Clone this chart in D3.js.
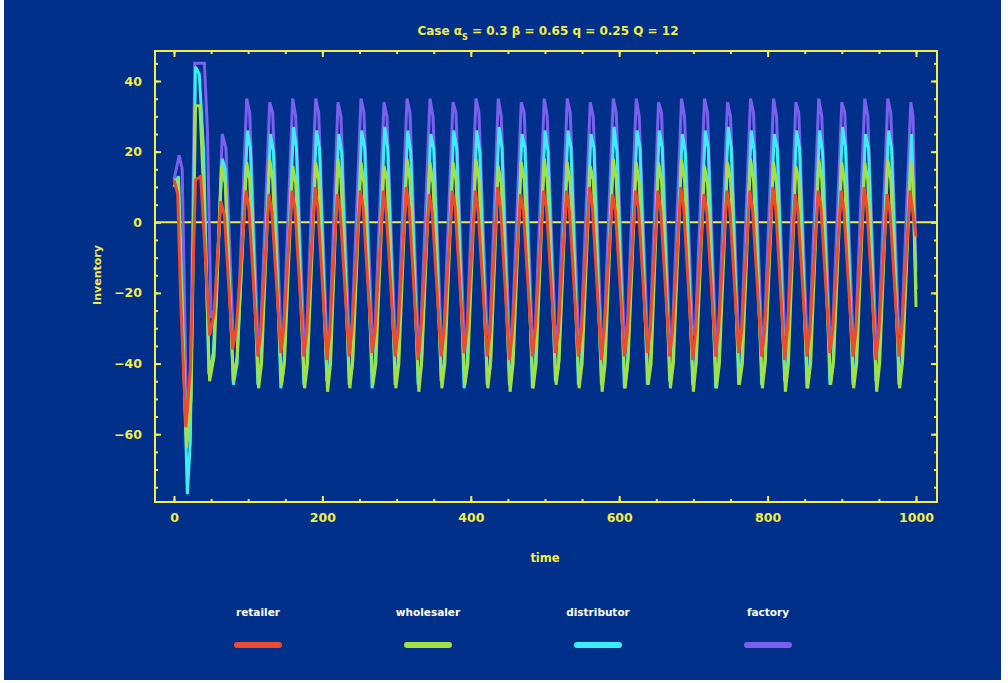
<!DOCTYPE html>
<html>
<head>
<meta charset="utf-8">
<script src="https://cdn.jsdelivr.net/npm/d3@7"></script>
<style>
  body { margin: 0; background: #ffffff; }
  text { font-family: "DejaVu Sans", sans-serif; font-weight: bold; }
</style>
</head>
<body>
<div id="chart"></div>
<script>

// inventory turning points [time, value]
const retailer = [
  [0,12],[5,8],[9,-22],[16,-58],[22,-42],[29,12],[36,13],[41,-5],[48,-32],[54,-26],[63,6],[68,2],[79,-36],[84,-30],
  [97,9],[101,4],[113,-38],[117,-31],[128,8],[132,3],[144,-37],[148,-30],[159,9],[163,4],[175,-38],[179,-31],
  [190,10],[194,4],[206,-39],[210,-31],[220,8],[224,3],[236,-38],[240,-30],[251,9],[255,4],[267,-37],[271,-31],
  [282,9],[286,3],[298,-38],[302,-31],[313,10],[317,4],[329,-39],[333,-30],[344,8],[348,3],[360,-38],[364,-31],
  [375,9],[379,4],[391,-37],[395,-30],[406,9],[410,3],[422,-38],[426,-31],[436,10],[440,4],[452,-39],[456,-31],
  [467,8],[471,3],[483,-38],[487,-30],[498,9],[502,4],[514,-37],[518,-31],[529,9],[533,3],[545,-38],[549,-31],
  [560,10],[564,4],[576,-39],[580,-30],[591,8],[595,3],[607,-38],[611,-31],[622,9],[626,4],[638,-37],[642,-30],
  [652,9],[656,3],[668,-38],[672,-31],[683,10],[687,4],[699,-39],[703,-31],[714,8],[718,3],[730,-38],[734,-30],
  [745,9],[749,4],[761,-37],[765,-31],[776,9],[780,3],[792,-38],[796,-31],[807,10],[811,4],[823,-39],[827,-30],
  [837,8],[841,3],[853,-38],[857,-31],[868,9],[872,4],[884,-37],[888,-30],[899,9],[903,3],[915,-38],[919,-31],
  [930,10],[934,4],[946,-39],[950,-31],[961,8],[965,3],[977,-38],[981,-30],[992,9],[995,4],[1000,-4]
];

const wholesaler = [
  [0,12],[6,12],[10,-20],[17,-64],[23,-50],[29,33],[35,33],[40,8],[48,-45],[54,-38],[64,16],[69,11],[80,-45],[85,-38],
  [98,17],[102,12],[114,-47],[118,-40],[129,18],[133,12],[145,-46],[149,-39],[160,16],[164,11],[176,-47],[180,-40],
  [191,17],[195,12],[207,-48],[211,-40],[221,18],[225,12],[237,-47],[241,-39],[252,17],[256,11],[268,-46],[272,-40],
  [283,16],[287,12],[299,-47],[303,-40],[314,18],[318,12],[330,-48],[334,-39],[345,17],[349,11],[361,-47],[365,-40],
  [376,17],[380,12],[392,-46],[396,-40],[407,18],[411,12],[423,-47],[427,-39],[437,16],[441,11],[453,-48],[457,-40],
  [468,17],[472,12],[484,-47],[488,-40],[499,18],[503,12],[515,-46],[519,-39],[530,17],[534,11],[546,-47],[550,-40],
  [561,16],[565,12],[577,-48],[581,-40],[592,18],[596,12],[608,-47],[612,-39],[623,17],[627,11],[639,-46],[643,-40],
  [653,17],[657,12],[669,-47],[673,-40],[684,18],[688,12],[700,-48],[704,-39],[715,16],[719,11],[731,-47],[735,-40],
  [746,17],[750,12],[762,-46],[766,-40],[777,18],[781,12],[793,-47],[797,-39],[808,17],[812,11],[824,-48],[828,-40],
  [838,16],[842,12],[854,-47],[858,-40],[869,18],[873,12],[885,-46],[889,-39],[900,17],[904,11],[916,-47],[920,-40],
  [931,17],[935,12],[947,-48],[951,-40],[962,18],[966,12],[978,-47],[982,-39],[993,17],[996,12],[1000,-24]
];

const distributor = [
  [0,10],[6,13],[11,-22],[18,-77],[22,-62],[29,44],[34,42],[40,20],[47,-43],[53,-37],[65,18],[69,15],[80,-46],[85,-40],
  [99,26],[103,21],[113,-46],[117,-40],[130,25],[134,20],[144,-47],[148,-41],[161,27],[165,21],[175,-46],[179,-40],
  [192,26],[196,21],[206,-45],[210,-40],[222,25],[226,20],[236,-46],[240,-41],[253,26],[257,21],[267,-47],[271,-40],
  [284,27],[288,21],[298,-46],[302,-40],[315,26],[319,20],[329,-46],[333,-41],[346,25],[350,21],[360,-45],[364,-40],
  [377,26],[381,21],[391,-47],[395,-40],[408,26],[412,20],[422,-46],[426,-41],[438,27],[442,21],[452,-46],[456,-40],
  [469,25],[473,21],[483,-47],[487,-40],[500,26],[504,20],[514,-45],[518,-41],[531,26],[535,21],[545,-46],[549,-40],
  [562,25],[566,21],[576,-46],[580,-40],[593,27],[597,20],[607,-47],[611,-41],[624,26],[628,21],[638,-46],[642,-40],
  [654,26],[658,21],[668,-45],[672,-40],[685,25],[689,20],[699,-46],[703,-41],[716,26],[720,21],[730,-47],[734,-40],
  [747,27],[751,21],[761,-46],[765,-40],[778,26],[782,20],[792,-46],[796,-41],[809,25],[813,21],[823,-45],[827,-40],
  [839,26],[843,21],[853,-47],[857,-40],[870,26],[874,20],[884,-46],[888,-41],[901,27],[905,21],[915,-46],[919,-40],
  [932,25],[936,21],[946,-45],[950,-40],[963,26],[967,21],[977,-46],[981,-40],[994,25],[1000,-19]
];

const factory = [
  [0,12],[7,19],[11,15],[17,-55],[22,-47],[28,45],[41,45],[45,26],[50,-27],[57,-24],[65,25],[70,21],[80,-34],[86,-30],
  [98,35],[102,31],[113,-33],[117,-30],[129,34],[133,31],[144,-32],[148,-29],[160,35],[164,30],[175,-33],[179,-30],
  [191,35],[195,31],[206,-34],[210,-30],[221,34],[225,30],[236,-33],[240,-29],[252,35],[256,31],[267,-32],[271,-30],
  [283,34],[287,30],[298,-33],[302,-30],[314,35],[318,31],[329,-34],[333,-29],[345,35],[349,30],[360,-33],[364,-30],
  [376,34],[380,31],[391,-33],[395,-30],[407,35],[411,31],[422,-32],[426,-29],[437,35],[441,30],[452,-33],[456,-30],
  [468,34],[472,31],[483,-34],[487,-30],[499,35],[503,30],[514,-33],[518,-29],[530,35],[534,31],[545,-32],[549,-30],
  [561,34],[565,30],[576,-33],[580,-30],[592,35],[596,31],[607,-34],[611,-29],[623,35],[627,30],[638,-33],[642,-30],
  [653,34],[657,31],[668,-33],[672,-30],[684,35],[688,30],[699,-32],[703,-29],[715,35],[719,31],[730,-33],[734,-30],
  [746,34],[750,30],[761,-34],[765,-30],[777,35],[781,31],[792,-33],[796,-29],[808,35],[812,30],[823,-32],[827,-30],
  [838,34],[842,31],[853,-33],[857,-30],[869,35],[873,30],[884,-34],[888,-29],[900,34],[904,31],[915,-33],[919,-30],
  [931,35],[935,30],[946,-33],[950,-30],[962,35],[966,31],[977,-32],[981,-29],[993,34],[996,30],[1000,-14]
];

const seriesNames = ["retailer", "wholesaler", "distributor", "factory"];
const xTickValues = [0, 200, 400, 600, 800, 1000];
const yTickValues = [-60, -40, -20, 0, 20, 40];

const W = 1008, H = 683;
const margin = {top: 51, right: 71, bottom: 181, left: 155};
const width = W - margin.left - margin.right,
      height = H - margin.top - margin.bottom;

const bg = "#01308a", yellow = "#f4ec48";
const colors = {retailer: "#ee4a2e", wholesaler: "#a2e044", distributor: "#3aeef8", factory: "#7a60ee"};
const seriesData = {retailer, wholesaler, distributor, factory};

const svg = d3.select("#chart").append("svg")
    .attr("width", W)
    .attr("height", H);

svg.append("rect")
    .attr("x", 4).attr("y", 0)
    .attr("width", 997).attr("height", 680)
    .attr("fill", bg);

const g = svg.append("g")
    .attr("transform", "translate(" + margin.left + "," + margin.top + ")");

const x = d3.scaleLinear().domain([-25.6, 1028.3]).range([0, width]);
const y = d3.scaleLinear().domain([-79.2, 48.5]).range([height, 0]);

g.append("clipPath").attr("id", "clip")
  .append("rect").attr("width", width).attr("height", height);

// zero line
g.append("line")
    .attr("x1", 0).attr("x2", width)
    .attr("y1", y(0)).attr("y2", y(0))
    .attr("stroke", yellow).attr("stroke-width", 2);

const line = d3.line()
    .x(d => x(d[0]))
    .y(d => y(d[1]));

// factory at the back, retailer on top
seriesNames.slice().reverse().forEach(name => {
  g.append("path")
    .datum(seriesData[name])
    .attr("clip-path", "url(#clip)")
    .attr("fill", "none")
    .attr("stroke", colors[name])
    .attr("stroke-width", 3)
    .attr("d", line);
});

// axes, ticks pointing inward
function styleAxis(sel) {
  sel.selectAll("path, line").attr("stroke", yellow).attr("stroke-width", 2);
  sel.selectAll("text").attr("fill", yellow).style("font-size", "12.5px");
  sel.select(".domain").remove();
}

const minorX = d3.range(0, 1001, 50), minorY = d3.range(-75, 46, 5);

g.append("g").attr("transform", "translate(0," + height + ")")
  .call(d3.axisBottom(x).tickValues(minorX).tickSize(-3).tickFormat("")).call(styleAxis);
g.append("g").call(d3.axisTop(x).tickValues(minorX).tickSize(-3).tickFormat("")).call(styleAxis);
g.append("g").call(d3.axisLeft(y).tickValues(minorY).tickSize(-3).tickFormat("")).call(styleAxis);
g.append("g").attr("transform", "translate(" + width + ",0)")
  .call(d3.axisRight(y).tickValues(minorY).tickSize(-3).tickFormat("")).call(styleAxis);

g.append("g").attr("transform", "translate(0," + height + ")")
  .call(d3.axisBottom(x).tickValues(xTickValues).tickSize(-6).tickPadding(11).tickFormat(d3.format("d"))).call(styleAxis);
g.append("g").call(d3.axisTop(x).tickValues(xTickValues).tickSize(-6).tickFormat("")).call(styleAxis);
g.append("g").call(d3.axisLeft(y).tickValues(yTickValues).tickSize(-6).tickPadding(13)).call(styleAxis);
g.append("g").attr("transform", "translate(" + width + ",0)")
  .call(d3.axisRight(y).tickValues(yTickValues).tickSize(-6).tickFormat("")).call(styleAxis);

// frame
g.append("rect")
    .attr("width", width).attr("height", height)
    .attr("fill", "none")
    .attr("stroke", yellow).attr("stroke-width", 2);

// title and axis titles
const title = svg.append("text")
    .attr("x", 548).attr("y", 35)
    .attr("text-anchor", "middle")
    .attr("fill", yellow)
    .style("font-size", "12px");
title.append("tspan").text("Case  \u03b1");
title.append("tspan").attr("baseline-shift", "sub").style("font-size", "8px").text("S");
title.append("tspan").text(" = 0.3  \u03b2 = 0.65  q = 0.25  Q = 12");

svg.append("text")
    .attr("x", 545).attr("y", 562)
    .attr("text-anchor", "middle")
    .attr("fill", yellow)
    .style("font-size", "11.5px")
    .text("time");

svg.append("text")
    .attr("transform", "translate(101,275) rotate(-90)")
    .attr("text-anchor", "middle")
    .attr("fill", yellow)
    .style("font-size", "11px")
    .text("Inventory");

// legend
const legend = svg.selectAll(".legend")
    .data(seriesNames)
    .enter().append("g")
    .attr("class", "legend")
    .attr("transform", (d, i) => "translate(" + (258 + i * 170) + ",0)");

legend.append("text")
    .attr("y", 616)
    .attr("text-anchor", "middle")
    .attr("fill", "#ffffff")
    .style("font-size", "10.5px")
    .text(d => d);

legend.append("line")
    .attr("x1", -21).attr("x2", 21)
    .attr("y1", 645).attr("y2", 645)
    .attr("stroke", d => colors[d])
    .attr("stroke-width", 6)
    .attr("stroke-linecap", "round");

</script>
</body>
</html>
